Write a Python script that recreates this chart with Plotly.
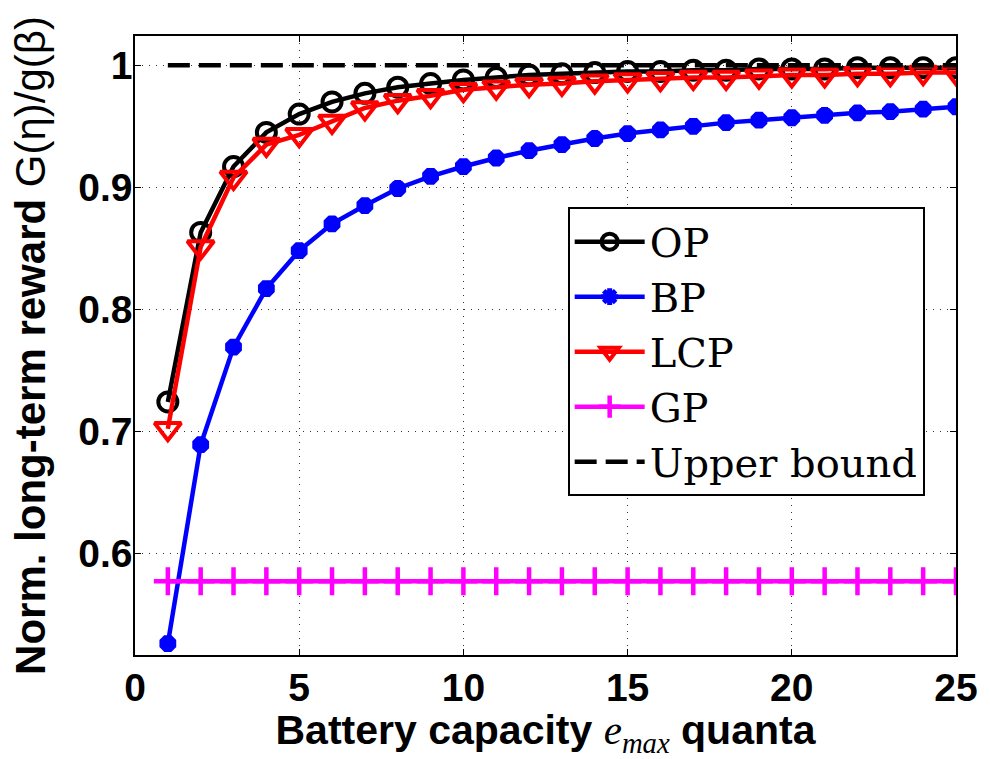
import plotly.graph_objects as go

x_vals = list(range(1, 26))
op = [0.724, 0.863, 0.917, 0.945, 0.960, 0.970, 0.977, 0.982, 0.985, 0.988,
      0.990, 0.992, 0.993, 0.994, 0.995, 0.995, 0.996, 0.996, 0.997, 0.997,
      0.997, 0.998, 0.998, 0.998, 0.998]
bp = [0.526, 0.689, 0.769, 0.817, 0.848, 0.870, 0.885, 0.899, 0.909, 0.917,
      0.924, 0.930, 0.935, 0.940, 0.944, 0.947, 0.950, 0.953, 0.955, 0.957,
      0.959, 0.961, 0.962, 0.964, 0.966]
lcp = [0.702, 0.851, 0.908, 0.935, 0.943, 0.954, 0.965, 0.971, 0.975, 0.980,
       0.982, 0.984, 0.985, 0.987, 0.988, 0.989, 0.990, 0.990, 0.991, 0.992,
       0.992, 0.993, 0.993, 0.994, 0.994]
gp = [0.577] * 25
upper = [1.0] * 25

x_ticks = [0, 5, 10, 15, 20, 25]
y_ticks = [0.6, 0.7, 0.8, 0.9, 1.0]
y_tick_labels = ["0.6", "0.7", "0.8", "0.9", "1"]

fig = go.Figure()
fig.add_trace(go.Scatter(x=x_vals, y=op, name="OP", mode="lines+markers",
                         line=dict(color="black", width=4.5),
                         marker=dict(symbol="circle-open", size=19, color="black",
                                     line=dict(width=4, color="black"))))
fig.add_trace(go.Scatter(x=x_vals, y=bp, name="BP", mode="lines+markers",
                         line=dict(color="#0000ff", width=4.5),
                         marker=dict(symbol="asterisk-open", size=14, color="#0000ff",
                                     line=dict(width=7, color="#0000ff"))))
fig.add_trace(go.Scatter(x=x_vals, y=lcp, name="LCP", mode="lines+markers",
                         line=dict(color="#ff0000", width=4.5),
                         marker=dict(symbol="triangle-down-open", size=23, color="#ff0000",
                                     line=dict(width=4, color="#ff0000"))))
fig.add_trace(go.Scatter(x=x_vals, y=gp, name="GP", mode="lines+markers",
                         line=dict(color="#ff00ff", width=4.5),
                         marker=dict(symbol="cross-thin-open", size=20, color="#ff00ff",
                                     line=dict(width=4.5, color="#ff00ff"))))
fig.add_trace(go.Scatter(x=x_vals, y=upper, name="Upper bound", mode="lines",
                         line=dict(color="black", width=4.5, dash="22px,9px")))

axis_common = dict(
    showline=True, linecolor="black", linewidth=1.5, mirror="ticks",
    ticks="inside", ticklen=6, tickcolor="black",
    showgrid=True, gridcolor="#333333", gridwidth=1, griddash="1px,6px",
    zeroline=False,
    tickfont=dict(family="Liberation Sans, Arial", size=39, color="black", weight="bold"),
)

fig.update_xaxes(range=[0, 25], tickvals=x_ticks, **axis_common,
                 ticklabelstandoff=-3,
                 title=dict(text="<b>Battery capacity </b><span style='font-family:Liberation Serif'><i>e<sub>max</sub></i></span><b> quanta</b>",
                            font=dict(family="Liberation Sans, Arial", size=41, color="black"),
                            standoff=10))
fig.update_yaxes(range=[0.5166, 1.024], tickvals=y_ticks, ticktext=y_tick_labels, **axis_common,
                 ticklabelstandoff=-7,
                 title=dict(text="<b>Norm. long-term reward</b> G(η)/g(β)",
                            font=dict(family="Liberation Sans, Arial", size=42, color="black"),
                            standoff=20))

fig.update_layout(
    width=990, height=759,
    margin=dict(l=135, r=30, t=36, b=101),
    paper_bgcolor="white", plot_bgcolor="white",
    showlegend=True,
    legend=dict(x=0.527, y=0.7235, xanchor="left", yanchor="top",
                bgcolor="white", bordercolor="black", borderwidth=2,
                font=dict(family="DejaVu Serif, Liberation Serif", size=40, color="black"),
                itemwidth=70, tracegroupgap=0),
)

fig.write_html("out.html")
